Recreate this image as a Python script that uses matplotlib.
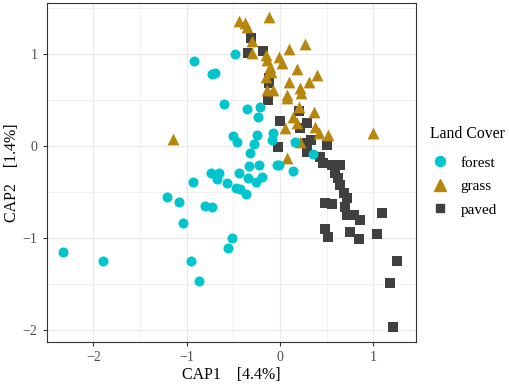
import matplotlib.pyplot as plt
from matplotlib.lines import Line2D

plt.rcParams['font.family'] = ['Liberation Serif', 'DejaVu Serif']

# values
forest_x = [-0.918, -0.725, -0.693, -0.597, -0.482, -0.51, -0.464, -0.357, -0.214, -0.232,
            -0.25, -0.072, -0.089, -0.279, -0.322, 0.161, 0.357, -0.932, -0.74, -0.66,
            -0.678, -0.565, -0.436, -0.336, -0.222, -0.34, -0.257, -0.196, -0.036, -0.007,
            0.136, -0.472, -0.429, -0.368, -1.214, -1.086, -0.804, -0.729, -1.043, -0.518,
            -0.561, -2.33, -1.90, -0.957, -0.871]
forest_y = [0.918, 0.777, 0.79, 0.456, 0.995, 0.108, 0.037, 0.401, 0.42, 0.308,
            0.116, 0.134, 0.062, 0.018, -0.082, 0.043, -0.09, -0.39, -0.293, -0.293,
            -0.361, -0.40, -0.293, -0.22, -0.209, -0.354, -0.39, -0.336, -0.209, -0.209,
            -0.271, -0.462, -0.473, -0.524, -0.553, -0.611, -0.654, -0.661, -0.842, -1.0,
            -1.106, -1.157, -1.247, -1.25, -1.47]

grass_x = [-0.436, -0.375, -0.357, -0.115, -0.297, -0.297, -0.15, -0.143, -0.007, 0.018,
           0.096, 0.268, -0.107, -0.096, 0.179, 0.393, -0.15, 0.1, 0.311, 0.214,
           0.222, -0.143, -0.072, 0.078, 0.078, 0.2, 0.368, 0.136, 0.179, 0.057,
           0.375, 0.411, 0.518, 1.0, 0.072, 0.214, -1.143]
grass_y = [1.356, 1.334, 1.29, 1.40, 1.139, 1.009, 0.984, 0.93, 0.965, 0.894,
           1.046, 1.10, 0.857, 0.796, 0.829, 0.767, 0.742, 0.694, 0.694, 0.622,
           0.575, 0.604, 0.604, 0.55, 0.514, 0.416, 0.362, 0.315, 0.249, 0.189,
           0.206, 0.134, 0.116, 0.141, -0.137, 0.043, 0.069]

paved_x = [-0.314, -0.34, -0.179, -0.118, -0.118, -0.125, 0.0, 0.204, 0.286, 0.214,
           -0.018, 0.286, 0.5, 0.286, 0.429, 0.464, 0.554, 0.643, 0.59, 0.625,
           0.643, 0.679, 0.715, 0.482, 0.554, 0.697, 0.715, 0.793, 0.857, 0.482,
           0.518, 0.75, 0.85, 1.036, 1.09, 1.257, 1.179, 1.207, 0.33]
paved_y = [1.165, 1.009, 1.03, 0.731, 0.677, 0.496, 0.271, 0.38, 0.243, 0.189,
           -0.011, 0.026, 0.008, -0.065, -0.119, -0.191, -0.209, -0.209, -0.30, -0.354,
           -0.426, -0.516, -0.57, -0.618, -0.632, -0.661, -0.752, -0.752, -0.80, -0.907,
           -0.994, -0.933, -1.015, -0.958, -0.734, -1.25, -1.493, -1.97, 0.06]

colors = {'forest': '#00C5CD', 'grass': '#B8860B', 'paved': '#404040'}

fig = plt.figure(figsize=(5.1, 3.87), dpi=100)
ax = fig.add_axes([0.0916, 0.116, 0.7244, 0.876])

ax.scatter(paved_x, paved_y, marker='s', s=46, color=colors['paved'], linewidths=0, zorder=3)
ax.scatter(grass_x, grass_y, marker='^', s=72, color=colors['grass'], linewidths=0, zorder=3)
ax.scatter(forest_x, forest_y, marker='o', s=52, color=colors['forest'], linewidths=0, zorder=3)

ax.set_xlim(-2.5, 1.457)
ax.set_ylim(-2.13, 1.548)
ax.set_xticks([-2, -1, 0, 1])
ax.set_yticks([-2, -1, 0, 1])
ax.set_xticks([-2.5, -1.5, -0.5, 0.5], minor=True)
ax.set_yticks([-1.5, -0.5, 0.5, 1.5], minor=True)
ax.grid(which='major', color='#EBEBEB', linewidth=1.0, zorder=0)
ax.grid(which='minor', color='#EBEBEB', linewidth=0.5, zorder=0)
ax.set_axisbelow(True)
ax.tick_params(which='minor', length=0)
ax.tick_params(which='major', length=3, color='#333333', labelsize=10, labelcolor='#4D4D4D')
for sp in ax.spines.values():
    sp.set_color('#333333')
    sp.set_linewidth(0.8)

ax.set_xlabel('CAP1    [4.4%]', fontsize=11.5, labelpad=2)
ax.set_ylabel('CAP2    [1.4%]', fontsize=11.5, labelpad=2)

handles = [
    Line2D([], [], marker='o', linestyle='', color=colors['forest'], markersize=7.2),
    Line2D([], [], marker='^', linestyle='', color=colors['grass'], markersize=9),
    Line2D([], [], marker='s', linestyle='', color=colors['paved'], markersize=6),
]
leg = fig.legend(handles, ['forest', 'grass', 'paved'], title='Land Cover',
                 loc='upper left', bbox_to_anchor=(0.816, 0.71), frameon=False,
                 fontsize=11, title_fontsize=11.3, handlelength=1.3, handletextpad=0.72,
                 labelspacing=0.65)
leg._legend_box.align = 'left'
leg._legend_box.sep = 10

plt.savefig('out.png', dpi=100)
